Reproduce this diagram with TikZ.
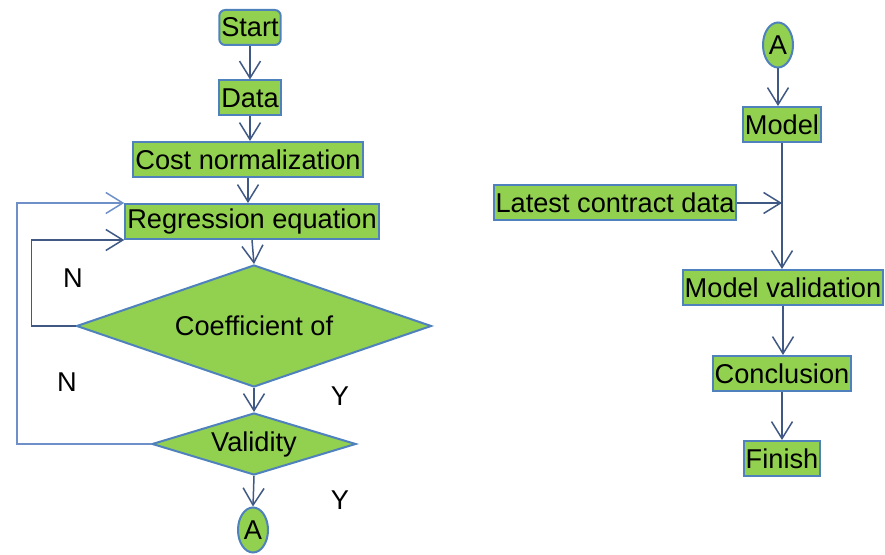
\documentclass[tikz,border=0pt]{standalone}
\usepackage{fontspec}
\setmainfont{Liberation Sans}
\usetikzlibrary{shapes.geometric}
\usetikzlibrary{arrows.meta}
\definecolor{box-green}{HTML}{92D050}
\definecolor{box-blue}{HTML}{4F81BD}
\definecolor{link-blue}{HTML}{3F5884}
\definecolor{loop-blue}{HTML}{6F8FC9}
\tikzset{
  stepbox/.style={rectangle, draw=box-blue, fill=box-green, line width=1pt,
    inner xsep=1pt, inner ysep=0pt, minimum height=17.5pt},
  startbox/.style={stepbox, rounded corners=3pt},
  decision/.style n args={3}{diamond, draw=box-blue, fill=box-green, line width=1pt,
    inner sep=0pt, aspect=#3, minimum width=#1, minimum height=#2},
  jump/.style={ellipse, draw=box-blue, fill=box-green, line width=1pt,
    inner sep=0pt, minimum width=15pt, minimum height=22.5pt},
  flow/.style={draw=link-blue, line width=0.75pt, -{Straight Barb[length=8.5pt,width=10.5pt]}},
  back/.style={flow, draw=loop-blue},
}

\begin{document}
\begin{tikzpicture}[x=0.5pt, y=-0.5pt,
  every node/.style={font=\fontsize{13.6}{16}\selectfont}]
  \useasboundingbox (0,0) rectangle (885,555);

  % left column
  \node[startbox] (start) at (250,27.5) {Start};
  \node[stepbox] (data) at (250,98) {Data};
  \node[stepbox] (cost) at (248,159.5) {Cost normalization};
  \node[stepbox] (reg) at (252,221.5) {Regression equation};
  \node[decision={177.5pt}{61pt}{2.9}] (coef) at (254,326) {Coefficient of};
  \node[decision={102pt}{31pt}{3.3}] (valid) at (254,444) {Validity};
  \node[jump] (a1) at (253,530) {A};

  \node (n1) at (73,278) {N};
  \node (n2) at (67,382) {N};
  \node (y1) at (340,396) {Y};
  \node (y2) at (340,500) {Y};

  \draw[flow] (start.south) -- (start.south |- data.north);
  \draw[flow] (data.south) -- (data.south |- cost.north);
  \draw[flow] (cost.south) -- (cost.south |- reg.north);
  \draw[flow] (reg.south) -- (coef.north);
  \draw[flow] (coef.south) -- (valid.north);
  \draw[flow] (valid.south) -- (a1.north);

  % loops back to the equation
  \draw[back] (valid.west) -- ++(-134,0) |- (reg.north west);
  \draw[flow] (coef.west) -- ++(-44,0) |- (reg.south west);

  % right column
  \node[jump] (a2) at (778,45) {A};
  \node[stepbox] (model) at (782,124.5) {Model};
  \node[stepbox] (latest) at (615,203) {Latest contract data};
  \node[stepbox] (check) at (783,287.5) {Model validation};
  \node[stepbox] (concl) at (782,373.5) {Conclusion};
  \node[stepbox] (finish) at (782,458.5) {Finish};

  \draw[flow] (a2.south) -- (a2.south |- model.north);
  \draw[flow] (model.south) -- (model.south |- check.north);
  \draw[flow] (latest.east) -- (latest.east -| model.south);
  \draw[flow] (check.south) -- (check.south |- concl.north);
  \draw[flow] (concl.south) -- (finish.north);
\end{tikzpicture}
\end{document}
